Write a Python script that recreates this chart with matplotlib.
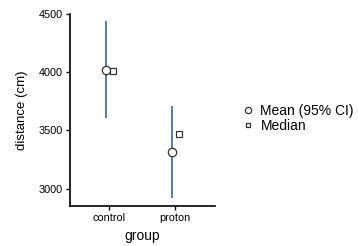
import numpy as np
import matplotlib
matplotlib.use('Agg')
import matplotlib.pyplot as plt

plt.rcParams['font.family'] = ['Liberation Sans', 'DejaVu Sans']

# values
groups = ['control', 'proton']
mean_vals = [4023, 3314]
ci_low = [3615, 2928]
ci_high = [4434, 3702]
median_vals = [4011, 3472]

x = np.arange(len(groups))
dodge = 0.053

fig = plt.figure(figsize=(3.58, 2.46), dpi=100)
ax = fig.add_axes([0.1955, 0.1626, 0.4051, 0.7804])

m = np.array(mean_vals)
err = [m - np.array(ci_low), np.array(ci_high) - m]
ax.errorbar(x - dodge, m, yerr=err, fmt='none', ecolor='#4a6fa8',
            elinewidth=1.3, capsize=1, capthick=1.3, zorder=2)
ax.plot(x - dodge, m, 'o', ms=6, mfc='white', mec='#333333', mew=0.9,
        ls='none', zorder=3, label='Mean (95% CI)')
ax.plot(x + dodge, median_vals, 's', ms=4.8, mfc='white', mec='#333333',
        mew=0.9, ls='none', zorder=3, label='Median')

ax.set_xlim(-0.59, 1.6)
ax.set_ylim(2850, 4500)
ax.set_xticks(x)
ax.set_xticklabels(groups)
ax.set_yticks([3000, 3500, 4000, 4500])
ax.tick_params(axis='both', labelsize=7.8, length=3, width=1, direction='out', pad=2)
for s in ['top', 'right']:
    ax.spines[s].set_visible(False)
for s in ['left', 'bottom']:
    ax.spines[s].set_linewidth(1.2)
ax.set_xlabel('group', fontsize=10, labelpad=4)
ax.set_ylabel('distance (cm)', fontsize=9.5, labelpad=8)

fig.legend(loc='center left', bbox_to_anchor=(0.677, 0.519), frameon=False,
           fontsize=10, handlelength=0.8, handletextpad=0.5, borderpad=0,
           borderaxespad=0, labelspacing=0.05, markerscale=0.75)

fig.savefig('out.png', dpi=100)
